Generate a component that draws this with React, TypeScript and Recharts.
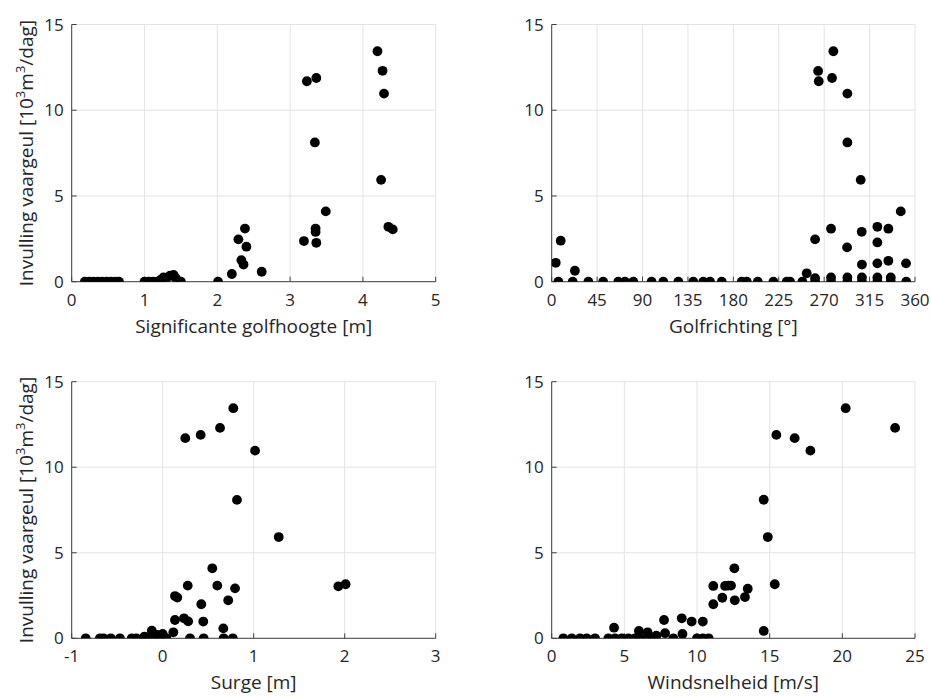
import { ScatterChart, Scatter, XAxis, YAxis, CartesianGrid } from 'recharts'

// Significante golfhoogte [m] vs invulling
const hsX = [
  0.18, 0.24, 0.3, 0.36, 0.42, 0.48, 0.54, 0.6, 0.65,
  1.0, 1.06, 1.12, 1.18, 1.22, 1.26, 1.3, 1.35, 1.4, 1.43, 1.5,
  2.01, 2.2, 2.29, 2.38, 2.4, 2.33, 2.36, 2.61,
  3.19, 3.23, 3.34, 3.35, 3.35, 3.36, 3.36, 3.49,
  4.2, 4.25, 4.27, 4.29, 4.35, 4.41,
]
const hsY = [
  0, 0, 0, 0, 0, 0, 0, 0, 0,
  0, 0, 0, 0, 0.1, 0.25, 0.2, 0.35, 0.39, 0.2, 0,
  0, 0.45, 2.47, 3.1, 2.04, 1.26, 1.0, 0.58,
  2.37, 11.69, 8.12, 3.1, 2.9, 11.88, 2.27, 4.1,
  13.44, 5.94, 12.3, 10.97, 3.2, 3.05,
]

// Golfrichting [deg]
const dirX = [
  4, 8.9, 23, 6.6, 20.8, 36.3, 51, 66, 72.6, 80.9, 99, 110.6, 125.5, 140.3, 150.2, 156.9, 168.5,
  188.3, 193.3, 204.2, 219.7, 232.9, 236.2, 248.4, 252.7, 261, 261, 261, 264, 264.6,
  276.8, 276.8, 276.8, 277.8, 279.1, 293, 293, 292.7, 293, 293,
  306.2, 307.2, 307.4, 307.4, 307.4, 322.7, 322.7, 322.7, 322.7, 322.7,
  333.6, 333.6, 336, 336, 345.9, 351.1, 351.3,
]
const dirY = [
  1.1, 2.39, 0.64, 0, 0, 0, 0, 0, 0, 0, 0, 0, 0, 0, 0, 0, 0,
  0, 0, 0, 0, 0, 0, 0, 0.49, 0, 0.2, 2.47, 12.29, 11.69,
  0, 0.25, 3.09, 11.88, 13.44, 0, 0.25, 2.0, 8.12, 10.97,
  5.94, 2.91, 1.0, 0.25, 0, 0, 0.25, 1.07, 2.29, 3.2,
  3.09, 1.22, 0.25, 0, 4.1, 1.07, 0,
]

// Surge [m]
const surgeX = [
  -0.846, -0.69, -0.65, -0.57, -0.47, -0.34, -0.29, -0.21, -0.16, -0.1, -0.04, 0.04, 0.3, 0.45, 0.67, 0.77,
  -0.12, -0.06, 0.0, 0.117, -0.2,
  0.135, 0.135, 0.16, 0.234, 0.248, 0.275, 0.28, 0.417, 0.424, 0.446, 0.545, 0.6, 0.63,
  0.666, 0.72, 0.776, 0.795, 0.816, 1.015, 1.275, 1.93, 2.01,
]
const surgeY = [
  0, 0, 0, 0, 0, 0, 0, 0, 0, 0, 0, 0, 0, 0, 0, 0,
  0.45, 0.2, 0.25, 0.35, 0.1,
  1.07, 2.47, 2.38, 1.17, 11.7, 3.08, 0.99, 11.89, 1.99, 0.98, 4.09, 3.08, 12.3,
  0.58, 2.22, 13.45, 2.92, 8.09, 10.97, 5.92, 3.04, 3.16,
]

// Windsnelheid [m/s]
const windX = [
  0.8, 1.38, 1.95, 2.41, 2.98, 3.9, 4.36, 4.82, 5.27, 5.73, 6.08, 6.54, 7.0, 8.37, 10.0, 10.4, 10.8,
  4.29, 6.0, 6.6, 7.8, 9.0, 7.2,
  7.73, 8.95, 9.63, 10.4, 11.12, 11.12, 11.74, 11.93, 12.15, 12.34, 12.57, 12.6, 13.3, 13.49,
  14.59, 14.59, 14.87, 15.35, 15.46, 16.72, 17.8, 20.23, 23.63,
]
const windY = [
  0, 0, 0, 0, 0, 0, 0, 0, 0, 0, 0, 0, 0, 0, 0, 0, 0,
  0.62, 0.43, 0.35, 0.3, 0.25, 0.15,
  1.07, 1.17, 0.98, 0.98, 1.99, 3.06, 2.37, 3.06, 3.08, 3.08, 4.09, 2.22, 2.41, 2.9,
  8.1, 0.43, 5.92, 3.16, 11.89, 11.7, 10.97, 13.45, 12.3,
]

const yTicks = [0, 5, 10, 15]

const FONT = '"Open Sans", sans-serif'
const TEXT = '#262626'
const BOX = '#404040'

const Dot = (p: any) => <circle cx={p.cx} cy={p.cy} r={4.9} fill="#000" />

const YLabel = ({ viewBox }: any) => {
  const x = viewBox.x + 33
  const y = viewBox.y + viewBox.height / 2
  return (
    <text
      x={x}
      y={y}
      transform={`rotate(-90 ${x} ${y})`}
      textAnchor="middle"
      fontFamily={FONT}
      fontSize={19}
      fill={TEXT}
    >
      <tspan>Invulling vaargeul [10</tspan>
      <tspan dy={-8} fontSize={13}>3</tspan>
      <tspan dy={8}>m</tspan>
      <tspan dy={-8} fontSize={13}>3</tspan>
      <tspan dy={8}>/dag]</tspan>
    </text>
  )
}

const makeXLabel = (text: string) => ({ viewBox }: any) => (
  <text
    x={viewBox.x + viewBox.width / 2}
    y={viewBox.y + 51}
    textAnchor="middle"
    fontFamily={FONT}
    fontSize={19}
    fill={TEXT}
  >
    {text}
  </text>
)

function Panel({ xs, ys, xDomain, xTicks, xLabel, showYLabel, left, top, width, height, margin }: {
  xs: number[]
  ys: number[]
  xDomain: [number, number]
  xTicks: number[]
  xLabel: string
  showYLabel: boolean
  left: number
  top: number
  width: number
  height: number
  margin: { top: number; right: number; bottom: number; left: number }
}) {
  const data = xs.map((x, i) => ({ x, y: ys[i] }))
  const tickStyle = { fontSize: 17, fill: TEXT, fontFamily: FONT }
  return (
    <div style={{ position: 'absolute', left, top, width, height }}>
      <ScatterChart width={width} height={height} margin={margin}>
        <CartesianGrid stroke="#e3e3e3" strokeWidth={1} />
        <XAxis
          type="number"
          dataKey="x"
          domain={xDomain}
          ticks={xTicks}
          interval={0}
          height={50}
          stroke={BOX}
          tick={tickStyle}
          tickSize={-5}
          tickMargin={17}
          allowDataOverflow
          label={{ content: makeXLabel(xLabel) } as any}
        />
        <XAxis
          xAxisId="top"
          orientation="top"
          type="number"
          domain={xDomain}
          ticks={xTicks}
          interval={0}
          height={0}
          stroke={BOX}
          tickSize={-5}
          tickFormatter={() => ''}
        />
        <YAxis
          type="number"
          dataKey="y"
          domain={[0, 15]}
          ticks={yTicks}
          interval={0}
          width={71.7}
          stroke={BOX}
          tick={tickStyle}
          tickSize={-5}
          tickMargin={13}
          allowDataOverflow
          label={showYLabel ? ({ content: YLabel } as any) : undefined}
        />
        <YAxis
          yAxisId="right"
          orientation="right"
          type="number"
          domain={[0, 15]}
          ticks={yTicks}
          interval={0}
          width={0}
          stroke={BOX}
          tickSize={-5}
          tickFormatter={() => ''}
        />
        <Scatter data={data} shape={Dot} isAnimationActive={false} />
      </ScatterChart>
    </div>
  )
}

export default function App() {
  return (
    <div style={{ position: 'absolute', left: 0, top: 0, width: 931, height: 698, background: '#fff' }}>
      <Panel
        xs={hsX}
        ys={hsY}
        xDomain={[0, 5]}
        xTicks={[0, 1, 2, 3, 4, 5]}
        xLabel="Significante golfhoogte [m]"
        showYLabel
        left={0}
        top={0}
        width={460}
        height={345}
        margin={{ top: 24.5, right: 24.3, bottom: 13.3, left: 0 }}
      />
      <Panel
        xs={dirX}
        ys={dirY}
        xDomain={[0, 360]}
        xTicks={[0, 45, 90, 135, 180, 225, 270, 315, 360]}
        xLabel="Golfrichting [°]"
        showYLabel={false}
        left={480}
        top={0}
        width={451}
        height={345}
        margin={{ top: 24.5, right: 16, bottom: 13.3, left: 0 }}
      />
      <Panel
        xs={surgeX}
        ys={surgeY}
        xDomain={[-1, 3]}
        xTicks={[-1, 0, 1, 2, 3]}
        xLabel="Surge [m]"
        showYLabel
        left={0}
        top={357}
        width={460}
        height={341}
        margin={{ top: 24.7, right: 24.3, bottom: 9.7, left: 0 }}
      />
      <Panel
        xs={windX}
        ys={windY}
        xDomain={[0, 25]}
        xTicks={[0, 5, 10, 15, 20, 25]}
        xLabel="Windsnelheid [m/s]"
        showYLabel={false}
        left={480}
        top={357}
        width={451}
        height={341}
        margin={{ top: 24.7, right: 16, bottom: 9.7, left: 0 }}
      />
    </div>
  )
}
